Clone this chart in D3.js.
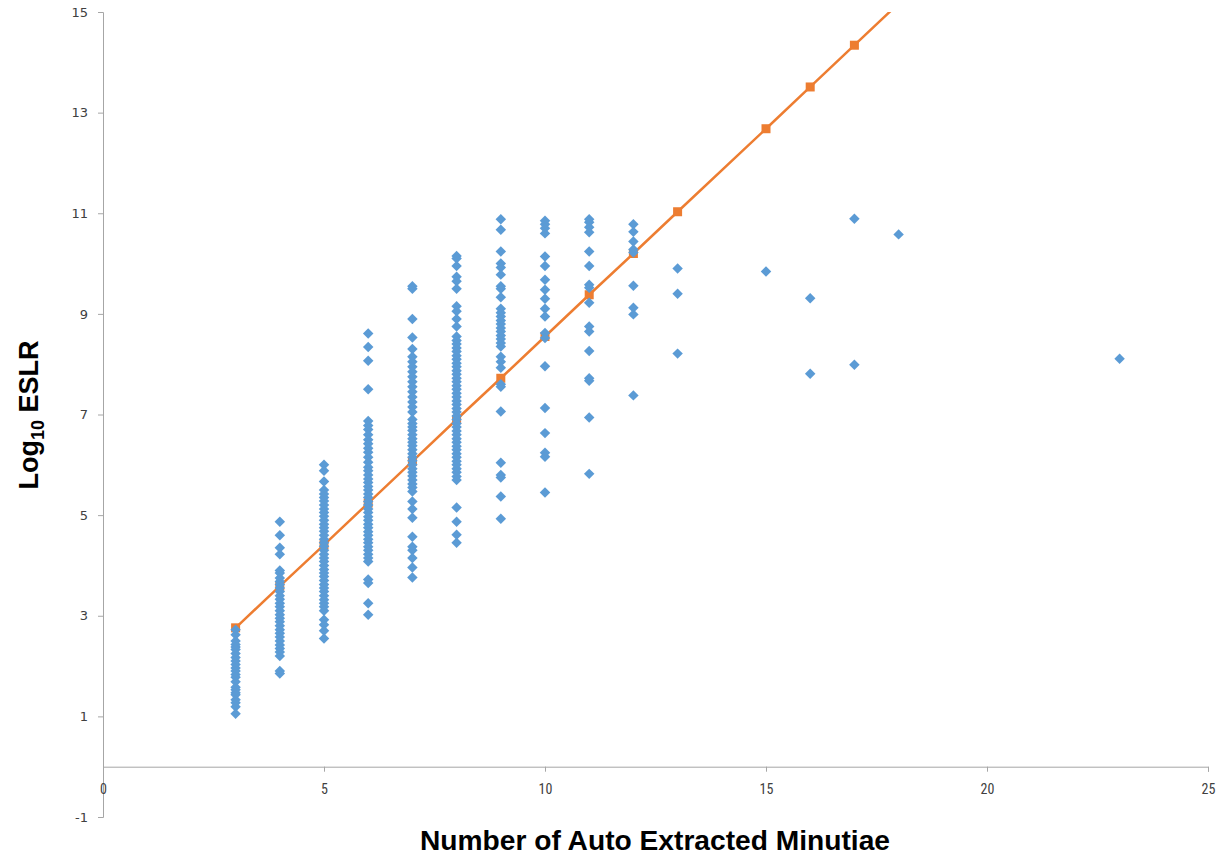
<!DOCTYPE html>
<html><head><meta charset="utf-8">
<script src="https://cdn.jsdelivr.net/npm/d3@7/dist/d3.min.js"></script>
<style>body{margin:0;background:#fff}svg{display:block}</style>
</head><body>
<script>
// ---- data ----
const xTicks = [0, 5, 10, 15, 20, 25];
const yTicks = [-1, 1, 3, 5, 7, 9, 11, 13, 15];

const obs3  = [2.72, 2.62, 2.5, 2.43, 2.38, 2.33, 2.25, 2.17, 2.1, 2.03, 1.96, 1.9, 1.83, 1.78, 1.69, 1.58, 1.53, 1.47, 1.43, 1.33, 1.27, 1.19, 1.05];
const obs4  = [4.87, 4.6, 4.35, 4.22, 3.9, 3.85, 3.75, 3.68, 3.62, 3.55, 3.48, 3.4, 3.33, 3.25, 3.18, 3.1, 3.02, 2.95, 2.88, 2.8, 2.72, 2.65, 2.58, 2.5, 2.42, 2.35, 2.28, 2.2, 1.9, 1.85];
const obs5  = [6.0, 5.88, 5.67, 5.5, 5.42, 5.35, 5.28, 5.2, 5.12, 5.05, 4.98, 4.9, 4.82, 4.75, 4.68, 4.6, 4.52, 4.45, 4.38, 4.3, 4.22, 4.15, 4.08, 4.0, 3.92, 3.85, 3.78, 3.7, 3.62, 3.55, 3.48, 3.4, 3.32, 3.25, 3.18, 3.1, 2.92, 2.82, 2.7, 2.55];
const obs6  = [8.61, 8.34, 8.07, 7.5, 6.87, 6.78, 6.7, 6.6, 6.5, 6.42, 6.33, 6.25, 6.15, 6.05, 5.95, 5.88, 5.8, 5.72, 5.65, 5.57, 5.5, 5.42, 5.35, 5.27, 5.2, 5.12, 5.05, 4.97, 4.9, 4.82, 4.75, 4.67, 4.6, 4.52, 4.45, 4.37, 4.3, 4.22, 4.15, 4.08, 3.72, 3.65, 3.25, 3.02];
const obs7  = [9.55, 9.5, 8.9, 8.53, 8.3, 8.15, 8.05, 7.95, 7.85, 7.75, 7.65, 7.55, 7.45, 7.35, 7.25, 7.15, 7.05, 6.9, 6.82, 6.75, 6.68, 6.6, 6.52, 6.45, 6.38, 6.3, 6.22, 6.15, 6.08, 6.0, 5.92, 5.85, 5.78, 5.7, 5.62, 5.55, 5.47, 5.27, 5.12, 4.95, 4.57, 4.37, 4.3, 4.15, 3.96, 3.76];
const obs8  = [10.15, 10.1, 9.95, 9.74, 9.65, 9.5, 9.15, 9.05, 8.9, 8.75, 8.55, 8.47, 8.4, 8.32, 8.25, 8.17, 8.1, 8.02, 7.95, 7.87, 7.8, 7.72, 7.65, 7.57, 7.5, 7.42, 7.35, 7.27, 7.2, 7.12, 7.05, 6.97, 6.9, 6.82, 6.75, 6.67, 6.6, 6.52, 6.45, 6.37, 6.3, 6.22, 6.15, 6.07, 6.0, 5.92, 5.85, 5.77, 5.7, 5.15, 4.87, 4.61, 4.45];
const obs9  = [10.88, 10.67, 10.24, 10.0, 9.92, 9.78, 9.55, 9.5, 9.33, 9.1, 9.02, 8.95, 8.87, 8.8, 8.72, 8.65, 8.57, 8.5, 8.42, 8.35, 8.15, 8.05, 7.93, 7.6, 7.55, 7.06, 6.04, 5.8, 5.75, 5.37, 4.93];
const obs10 = [10.85, 10.78, 10.7, 10.6, 10.14, 9.95, 9.68, 9.48, 9.3, 9.1, 8.95, 8.62, 8.52, 7.96, 7.13, 6.63, 6.24, 6.16, 5.45];
const obs11 = [10.88, 10.82, 10.72, 10.62, 10.24, 9.95, 9.58, 9.52, 9.22, 8.75, 8.65, 8.26, 7.72, 7.67, 6.94, 5.82];
const obs12 = [10.78, 10.63, 10.44, 10.28, 10.22, 9.56, 9.12, 8.99, 7.38];
const obs13 = [9.9, 9.4, 8.21];
const obs15 = [9.84];
const obs16 = [9.31, 7.81];
const obs17 = [10.89, 7.99];
const obs18 = [10.58];
const obs23 = [8.11];

const obsGroups = [[3, obs3], [4, obs4], [5, obs5], [6, obs6], [7, obs7], [8, obs8], [9, obs9], [10, obs10], [11, obs11], [12, obs12], [13, obs13], [15, obs15], [16, obs16], [17, obs17], [18, obs18], [23, obs23]];

const fitX = [3, 4, 5, 6, 7, 8, 9, 10, 11, 12, 13, 15, 16, 17, 18, 23];
const fitY = [2.76, 3.59, 4.41, 5.24, 6.07, 6.9, 7.72, 8.55, 9.38, 10.2, 11.03, 12.68, 13.51, 14.34, 15.17, 19.3];

// ---- drawing ----
const W = 1230, H = 858;
const pLeft = 103, pRight = 1208, pTop = 12, pBottom = 817;
const svg = d3.select("body").append("svg").attr("width", W).attr("height", H);

const x = d3.scaleLinear().domain([0, 25]).range([pLeft, pRight]);
const y = d3.scaleLinear().domain([-1, 15]).range([pBottom, pTop]);

const axisColor = "#a6a6a6";
const fmt = d => String(d);

// y axis
const gy = svg.append("g").attr("transform", `translate(${pLeft},0)`)
  .call(d3.axisLeft(y).tickValues(yTicks).tickSize(5).tickPadding(10).tickFormat(fmt));
gy.select(".domain").attr("stroke", axisColor);
gy.selectAll(".tick line").attr("stroke", axisColor);
gy.selectAll(".tick text").attr("font-family", "DejaVu Sans, Verdana, sans-serif").attr("font-size", 13).attr("fill", "#404040");

// x axis at y = 0
const gx = svg.append("g").attr("transform", `translate(0,${y(0)})`)
  .call(d3.axisBottom(x).tickValues(xTicks).tickSize(5).tickPadding(12).tickFormat(fmt));
gx.select(".domain").attr("stroke", axisColor);
gx.selectAll(".tick line").attr("stroke", axisColor);
gx.selectAll(".tick text").attr("font-family", "Liberation Sans Narrow, Roboto Condensed, Liberation Sans, sans-serif").attr("font-size", 14).attr("fill", "#404040");

// clip
svg.append("clipPath").attr("id", "plot").append("rect")
  .attr("x", pLeft).attr("y", pTop).attr("width", pRight - pLeft).attr("height", pBottom - pTop);

// fitted line (drawn first, behind observed points)
const fit = fitX.map((v, i) => [v, fitY[i]]);
const g2 = svg.append("g").attr("clip-path", "url(#plot)");
g2.append("path").datum(fit)
  .attr("d", d3.line().x(d => x(d[0])).y(d => y(d[1])))
  .attr("fill", "none").attr("stroke", "#ED7D31").attr("stroke-width", 2.5);
g2.selectAll("rect.m").data(fit.filter(d => d[1] <= 15)).join("rect")
  .attr("class", "m")
  .attr("x", d => x(d[0]) - 4.5).attr("y", d => y(d[1]) - 4.5)
  .attr("width", 9).attr("height", 9)
  .attr("fill", "#ED7D31");

// observed points (diamonds)
const pts = [];
obsGroups.forEach(([gxv, vals]) => vals.forEach(v => pts.push([gxv, v])));
const diamond = d3.symbol().type(d3.symbolDiamond2).size(70);
svg.append("g").selectAll("path").data(pts).join("path")
  .attr("d", diamond)
  .attr("transform", d => `translate(${x(d[0])},${y(d[1])})`)
  .attr("fill", "#5B9BD5");

// axis titles
svg.append("text")
  .attr("x", 655).attr("y", 850)
  .attr("text-anchor", "middle")
  .attr("font-family", "Liberation Sans Narrow, Liberation Sans, sans-serif")
  .attr("font-weight", "bold").attr("font-size", 27).attr("fill", "#000")
  .attr("textLength", 470).attr("lengthAdjust", "spacingAndGlyphs")
  .text("Number of Auto Extracted Minutiae");

const yl = svg.append("text")
  .attr("transform", "translate(38,415) rotate(-90)")
  .attr("text-anchor", "middle")
  .attr("font-family", "Liberation Sans Narrow, Liberation Sans, sans-serif")
  .attr("font-weight", "bold").attr("font-size", 27).attr("fill", "#000");
yl.append("tspan").text("Log");
yl.append("tspan").attr("font-size", 18).attr("dy", 6).text("10");
yl.append("tspan").attr("dy", -6).text(" ESLR");
</script>
</body></html>
